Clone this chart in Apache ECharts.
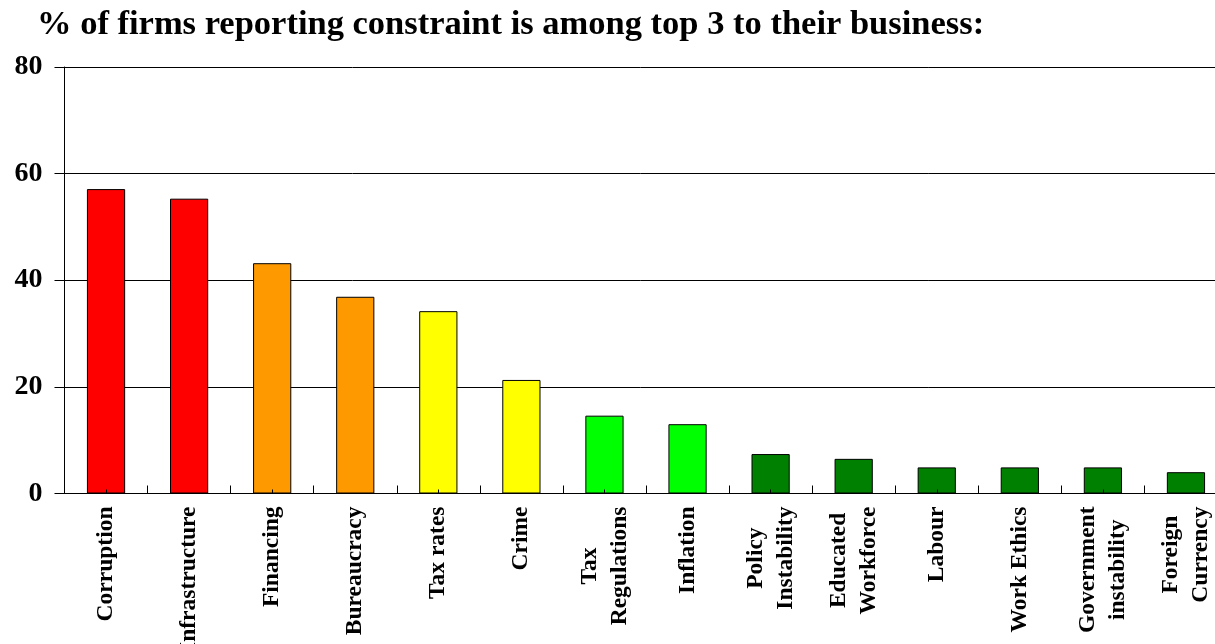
<!DOCTYPE html>
<html>
<head>
<meta charset="utf-8">
<script src="https://cdn.jsdelivr.net/npm/echarts@6/dist/echarts.min.js"></script>
<style>
  html, body { margin: 0; padding: 0; background: #fff; }
  #chart { width: 1215px; height: 644px; }
</style>
</head>
<body>
<div id="chart"></div>
<script>
// Constraint categories (line breaks as printed under the axis)
const categories = [
  'Corruption', 'Infrastructure', 'Financing', 'Bureaucracy', 'Tax rates', 'Crime',
  'Tax\nRegulations', 'Inflation', 'Policy\nInstability', 'Educated\nWorkforce',
  'Labour', 'Work Ethics', 'Government\ninstability', 'Foreign\nCurrency'
];
// % of firms naming the constraint among their top 3
const values = [57.1, 55.3, 43.2, 36.9, 34.2, 21.3, 14.6, 13.0, 7.4, 6.5, 4.9, 4.9, 4.9, 4.0];
// Severity band per constraint
const bands = [0, 0, 1, 1, 2, 2, 3, 3, 4, 4, 4, 4, 4, 4];
const bandColors = ['#FF0000', '#FF9900', '#FFFF00', '#00FF00', '#008000'];
const yTicks = { min: 0, max: 80, interval: 20 };
const titleText = '% of firms reporting constraint is among top 3 to their business:';

const serif = "'Liberation Serif', 'Times New Roman', serif";

const chart = echarts.init(document.getElementById('chart'), null, { renderer: 'canvas' });

// plot area runs a little past the right edge of the canvas
const grid = { left: 64.5, top: 67, width: 1163, height: 426.5, outerBoundsMode: 'none', containLabel: false };

chart.setOption({
  backgroundColor: '#ffffff',
  animation: false,
  title: {
    text: titleText,
    left: 37,
    top: 8,
    padding: 0,
    textStyle: { fontFamily: serif, fontWeight: 'bold', fontSize: 34.5, color: '#000' }
  },
  grid: grid,
  xAxis: [
    {
      type: 'category',
      data: categories,
      position: 'bottom',
      axisLine: { show: true, lineStyle: { color: '#000', width: 1 } },
      axisTick: { show: true, inside: true, length: 8, lineStyle: { color: '#000' } },
      axisLabel: {
        interval: 0,
        rotate: 90,
        margin: 13,
        color: '#000',
        fontFamily: serif,
        fontWeight: 'bold',
        fontSize: 23.5,
        lineHeight: 30,
        hideOverlap: false,
        formatter: function (v) {
          return v.split('\n').map(function (s) { return '{c|' + s + '}'; }).join('\n');
        },
        rich: {
          c: {
            align: 'center',
            fontFamily: serif,
            fontWeight: 'bold',
            fontSize: 23.5,
            lineHeight: 30,
            color: '#000'
          }
        }
      },
      z: 1
    },
    {
      // short ticks at the centre of each category
      type: 'category',
      data: categories,
      position: 'bottom',
      axisLine: { show: false },
      axisTick: { show: true, inside: true, alignWithLabel: true, length: 4, lineStyle: { color: '#000' } },
      axisLabel: { show: false },
      splitLine: { show: false },
      z: 5
    }
  ],
  yAxis: {
    type: 'value',
    min: yTicks.min,
    max: yTicks.max,
    interval: yTicks.interval,
    axisLine: { show: true, lineStyle: { color: '#000', width: 1 } },
    axisTick: { show: true, inside: false, length: 10, lineStyle: { color: '#000' } },
    axisLabel: {
      margin: 22,
      color: '#000',
      fontFamily: serif,
      fontWeight: 'bold',
      fontSize: 28
    },
    splitLine: { show: true, lineStyle: { color: '#000', width: 1 } }
  },
  series: [{
    type: 'bar',
    xAxisIndex: 0,
    barWidth: '46%',
    data: values.map(function (v, i) {
      return {
        value: v,
        itemStyle: { color: bandColors[bands[i]], borderColor: '#000', borderWidth: 1 }
      };
    }),
    z: 2
  }]
});
</script>
</body>
</html>
